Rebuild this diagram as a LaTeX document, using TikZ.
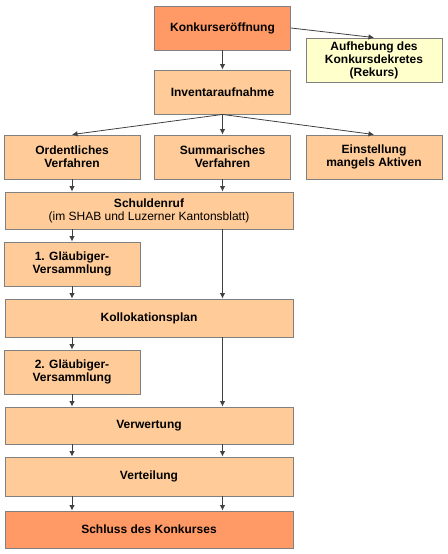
\documentclass[tikz,border=0pt]{standalone}
\usepackage{fontspec}
\setmainfont{Liberation Sans}
\usetikzlibrary{arrows.meta}
\definecolor{boxline}{HTML}{808080}
\definecolor{arrline}{HTML}{404040}
\definecolor{darkorange}{HTML}{FF9966}
\definecolor{lightorange}{HTML}{FFCC99}
\definecolor{lightyellow}{HTML}{FFFFCC}
\tikzset{
    stage/.style={draw=boxline, line width=0.9pt, fill=lightorange, inner sep=0pt,
            align=center, font=\fontsize{12}{13}\selectfont\bfseries,
            minimum height=44pt},
    smallstage/.style={stage, minimum width=136pt},
    widestage/.style={stage, minimum width=288pt},
    arr/.style={-{Latex[length=5.5pt,width=5.5pt]}, draw=arrline, line width=0.8pt},
}

\begin{document}
\begin{tikzpicture}[x=1pt, y=-1pt]
        \useasboundingbox (0, 0) rectangle (447, 554);
        %top
        \node[smallstage, fill=darkorange] (konk) at (222.5, 28) {Konkurseröffnung};
        \node[smallstage, fill=lightyellow] (aufh) at (374, 60) {Aufhebung des\\Konkursdekretes\\(Rekurs)};
        \node[smallstage] (inv) at (222.5, 92) {Inventaraufnahme};
        %three ways
        \node[smallstage] (ord) at (72, 157) {Ordentliches\\Verfahren};
        \node[smallstage] (summ) at (222.5, 157) {Summarisches\\Verfahren};
        \node[smallstage] (einst) at (374, 157) {Einstellung\\mangels Aktiven};
        %procedure
        \node[widestage, minimum height=37pt] (schuld) at (149, 210.5) {Schuldenruf\\\mdseries(im SHAB und Luzerner Kantonsblatt)};
        \node[smallstage] (gl1) at (72, 264) {1. Gläubiger-\\Versammlung};
        \node[widestage, minimum height=38pt] (koll) at (149, 318) {Kollokationsplan};
        \node[smallstage] (gl2) at (72, 372) {2. Gläubiger-\\Versammlung};
        \node[widestage, minimum height=37pt] (verw) at (149, 425.5) {Verwertung};
        \node[widestage, minimum height=39pt] (vert) at (149, 476.5) {Verteilung};
        \node[widestage, minimum height=37pt, fill=darkorange] (schl) at (149, 529.5) {Schluss des Konkurses};
        %arrows top
        \draw[arr] (konk.east) -- (aufh.north);
        \draw[arr] (konk) -- (inv);
        \draw[arr] (inv.south) -- (ord.north);
        \draw[arr] (inv.south) -- (summ.north);
        \draw[arr] (inv.south) -- (einst.north);
        %left column
        \draw[arr] (ord) -- (ord |- schuld.north);
        \draw[arr] (schuld.south -| ord) -- (gl1);
        \draw[arr] (gl1) -- (gl1 |- koll.north);
        \draw[arr] (koll.south -| gl1) -- (gl2);
        \draw[arr] (gl2) -- (gl2 |- verw.north);
        \draw[arr] (verw.south -| gl2) -- (gl2 |- vert.north);
        \draw[arr] (vert.south -| gl2) -- (gl2 |- schl.north);
        %right column
        \draw[arr] (summ) -- (summ |- schuld.north);
        \draw[arr] (schuld.south -| summ) -- (summ |- koll.north);
        \draw[arr] (koll.south -| summ) -- (summ |- verw.north);
        \draw[arr] (verw.south -| summ) -- (summ |- vert.north);
        \draw[arr] (vert.south -| summ) -- (summ |- schl.north);
    \end{tikzpicture}
\end{document}
